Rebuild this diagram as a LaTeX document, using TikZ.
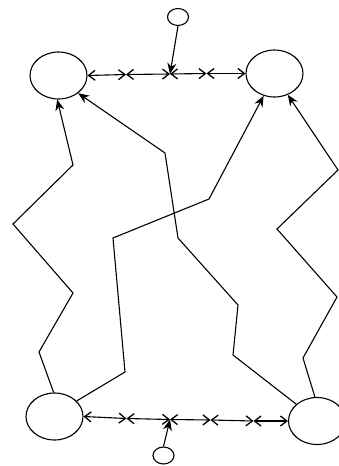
\documentclass[tikz,border=0pt]{standalone}
\usetikzlibrary{shapes.geometric,arrows.meta}
\begin{document}
\begin{tikzpicture}[x=1pt,y=-1pt,line width=1.1pt,
  bigc/.style={ellipse,draw,minimum width=57pt,minimum height=47pt,inner sep=0pt},
  smallc/.style={ellipse,draw,minimum width=21pt,minimum height=17pt,inner sep=0pt},
  link/.style={{Straight Barb[length=6.5pt,width=10pt,line width=1.3pt]}-{Straight Barb[length=6.5pt,width=10pt,line width=1.3pt]}},
  feed/.style={-{Stealth[length=11pt,width=9pt]}},
  zig/.style={-{Stealth[length=11pt,width=9pt]},line join=miter}]
\useasboundingbox (0,0) rectangle (339,466);
\begin{scope}
\clip (0,0) rectangle (339,466);
\node[bigc] (tl) at (58.5,75.5) {};
\node[bigc] (tr) at (274.5,73.5) {};
\node[bigc] (bl) at (54.5,416.5) {};
\node[bigc] (br) at (317,421) {};
\node[smallc] (ts) at (178,17) {};
\node[smallc] (bs) at (163.5,455.5) {};
\end{scope}
% top chain
\coordinate (t1) at (126,74.5);
\coordinate (tj) at (170,74);
\coordinate (t3) at (206.5,73.5);
\draw[link] (tl.east) -- (t1);
\draw[link] (t1) -- (tj);
\draw[link] (tj) -- (t3);
\draw[link] (t3) -- (tr.west);
\draw[feed] (ts.south) -- (tj);
% bottom chain
\coordinate (b1) at (126.5,418.5);
\coordinate (bj) at (170,419.5);
\coordinate (b3) at (210.5,420);
\coordinate (b4) at (253.5,421);
\draw[link] (bl.east) -- (b1);
\draw[link] (b1) -- (bj);
\draw[link] (bj) -- (b3);
\draw[link] (b3) -- (b4);
\draw[link] (b4) -- (br.west);
\draw[feed] (bs.north) -- (bj);
% zigzags
\draw[zig] (bl.92) -- (39,352) -- (73,293) -- (13,224) -- (73,165) -- (tl.267);
\draw[zig] (bl.35) -- (125,372) -- (113,238) -- (209,199) -- (tr.244);
\draw[zig] (br.141) -- (233,355) -- (238,305) -- (178,238) -- (165,153) -- (tl.-42);
\draw[zig] (br.95) -- (303,358) -- (337,297) -- (277,229) -- (338,170) -- (tr.-58);
\end{tikzpicture}
\end{document}
